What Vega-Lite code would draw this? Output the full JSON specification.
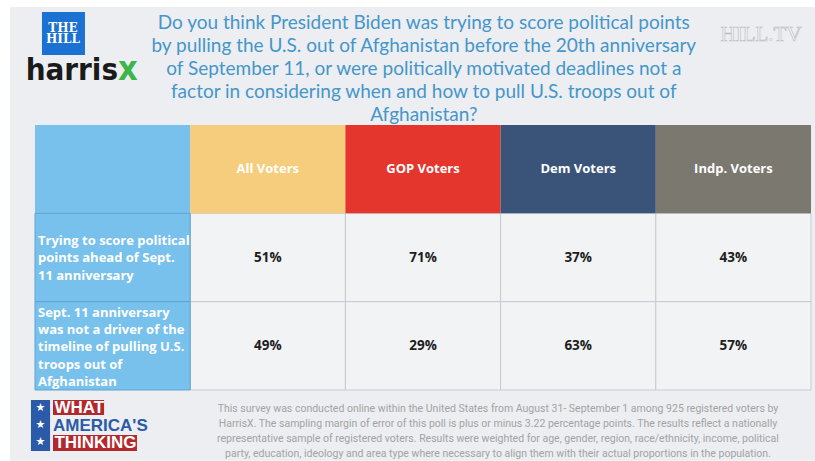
{
  "$schema": "https://vega.github.io/schema/vega-lite/v6.json",
  "width": 776,
  "height": 265,
  "autosize": {"type": "none"},
  "padding": {"left": 35, "top": 125, "right": 4, "bottom": 71},
  "background": "#ffffff",
  "config": {"view": {"stroke": null}},
  "data": {"values": [{}]},
  "datasets": {
    "cells": [
      {"row": "header", "col": "Response", "text": ""},
      {"row": "header", "col": "All Voters", "text": "All Voters"},
      {"row": "header", "col": "GOP Voters", "text": "GOP Voters"},
      {"row": "header", "col": "Dem Voters", "text": "Dem Voters"},
      {"row": "header", "col": "Indp. Voters", "text": "Indp. Voters"},
      {"row": "r1", "col": "Response", "text": "Trying to score political\npoints ahead of Sept.\n11 anniversary"},
      {"row": "r1", "col": "All Voters", "pct": 51},
      {"row": "r1", "col": "GOP Voters", "pct": 71},
      {"row": "r1", "col": "Dem Voters", "pct": 37},
      {"row": "r1", "col": "Indp. Voters", "pct": 43},
      {"row": "r2", "col": "Response", "text": "Sept. 11 anniversary\nwas not a driver of the\ntimeline of pulling U.S.\ntroops out of\nAfghanistan"},
      {"row": "r2", "col": "All Voters", "pct": 49},
      {"row": "r2", "col": "GOP Voters", "pct": 29},
      {"row": "r2", "col": "Dem Voters", "pct": 63},
      {"row": "r2", "col": "Indp. Voters", "pct": 57}
    ]
  },
  "resolve": {"scale": {"x": "independent", "y": "independent", "fill": "independent"}},
  "layer": [
    {
      "mark": {"type": "rect", "fill": "#eceef1"},
      "encoding": {
        "x": {"datum": -0.161, "type": "quantitative", "scale": {"domain": [0, 5], "nice": false, "zero": false}, "axis": null},
        "x2": {"datum": 5.03},
        "y": {"datum": -1.336, "type": "quantitative", "scale": {"domain": [0, 3], "reverse": true, "nice": false, "zero": false}, "axis": null},
        "y2": {"datum": 3.8}
      }
    },
    {
      "data": {"name": "cells"},
      "encoding": {
        "x": {"field": "col", "type": "nominal", "sort": ["Response", "All Voters", "GOP Voters", "Dem Voters", "Indp. Voters"], "axis": null, "scale": {"paddingInner": 0, "paddingOuter": 0}},
        "y": {"field": "row", "type": "nominal", "sort": ["header", "r1", "r2"], "axis": null, "scale": {"paddingInner": 0, "paddingOuter": 0}}
      },
      "layer": [
        {
          "transform": [{"filter": "datum.row != 'header' && datum.col != 'Response'"}],
          "mark": {"type": "rect", "fill": "#f1f3f5", "stroke": "#c6cad0", "strokeWidth": 1}
        },
        {
          "transform": [{"filter": "datum.row == 'header'"}],
          "mark": {"type": "rect"},
          "encoding": {
            "fill": {"field": "col", "type": "nominal", "legend": null,
              "scale": {"domain": ["Response", "All Voters", "GOP Voters", "Dem Voters", "Indp. Voters"],
                        "range": ["#78c1ec", "#f5cd7c", "#e5362d", "#3a5378", "#7b7870"]}}
          }
        },
        {
          "transform": [{"filter": "datum.col == 'Response' && datum.row != 'header'"}],
          "mark": {"type": "rect", "fill": "#78c1ec", "stroke": "#62a2d2", "strokeWidth": 1}
        },
        {
          "transform": [{"filter": "datum.row == 'header'"}],
          "mark": {"type": "text", "font": "Open Sans", "fontWeight": "bold", "fontSize": 13, "color": "#ffffff"},
          "encoding": {"text": {"field": "text"}}
        },
        {
          "transform": [{"filter": "datum.row != 'header' && datum.col != 'Response'"}, {"calculate": "datum.pct + '%'", "as": "label"}],
          "mark": {"type": "text", "font": "Open Sans", "fontWeight": "bold", "fontSize": 13.5, "color": "#1e1e1e"},
          "encoding": {"text": {"field": "label"}}
        },
        {
          "transform": [{"filter": "datum.col == 'Response' && datum.row == 'r1'"}],
          "mark": {"type": "text", "font": "Open Sans", "fontWeight": "bold", "fontSize": 13, "color": "#ffffff", "align": "left", "dx": 3, "dy": -17, "lineBreak": "\n", "lineHeight": 17.5},
          "encoding": {
            "x": {"field": "col", "type": "nominal", "bandPosition": 0, "sort": ["Response", "All Voters", "GOP Voters", "Dem Voters", "Indp. Voters"], "axis": null},
            "text": {"field": "text"}
          }
        },
        {
          "transform": [{"filter": "datum.col == 'Response' && datum.row == 'r2'"}],
          "mark": {"type": "text", "font": "Open Sans", "fontWeight": "bold", "fontSize": 13, "color": "#ffffff", "align": "left", "dx": 3, "dy": -33, "lineBreak": "\n", "lineHeight": 17.3},
          "encoding": {
            "x": {"field": "col", "type": "nominal", "bandPosition": 0, "sort": ["Response", "All Voters", "GOP Voters", "Dem Voters", "Indp. Voters"], "axis": null},
            "text": {"field": "text"}
          }
        }
      ]
    },
    {
      "layer": [
        {
          "mark": {"type": "text", "text": ["Do you think President Biden was trying to score political points", "by pulling the U.S. out of Afghanistan before the 20th anniversary", "of September 11, or were politically motivated deadlines not a", "factor in considering when and how to pull U.S. troops out of", "Afghanistan?"], "lineHeight": 23, "font": "Lato", "fontSize": 19, "color": "#4596cb", "align": "center", "baseline": "middle"},
          "encoding": {
            "x": {"datum": 2.505, "type": "quantitative", "scale": {"domain": [0, 5], "nice": false, "zero": false}, "axis": null},
            "y": {"datum": -1.155, "type": "quantitative", "scale": {"domain": [0, 3], "reverse": true, "nice": false, "zero": false}, "axis": null}
          }
        },
        {
          "mark": {"type": "rect", "fill": "#1b72d2"},
          "encoding": {
            "x": {"datum": 0.045, "type": "quantitative", "scale": {"domain": [0, 5], "nice": false, "zero": false}, "axis": null},
            "x2": {"datum": 0.322},
            "y": {"datum": -1.279, "type": "quantitative", "scale": {"domain": [0, 3], "reverse": true, "nice": false, "zero": false}, "axis": null},
            "y2": {"datum": -0.7925}
          }
        },
        {
          "mark": {"type": "text", "text": "THE\nHILL", "lineBreak": "\n", "lineHeight": 10.5, "font": "DejaVu Serif", "fontWeight": "bold", "fontSize": 12, "color": "#ffffff", "align": "center", "baseline": "middle"},
          "encoding": {
            "x": {"datum": 0.18, "type": "quantitative", "scale": {"domain": [0, 5], "nice": false, "zero": false}, "axis": null},
            "y": {"datum": -1.098, "type": "quantitative", "scale": {"domain": [0, 3], "reverse": true, "nice": false, "zero": false}, "axis": null}
          }
        },
        {
          "mark": {"type": "text", "text": "harris", "font": "'DejaVu Sans Condensed', 'DejaVu Sans', sans-serif", "fontWeight": "bold", "fontSize": 31, "color": "#1a1a1a", "align": "right", "baseline": "alphabetic"},
          "encoding": {
            "x": {"datum": 0.535, "type": "quantitative", "scale": {"domain": [0, 5], "nice": false, "zero": false}, "axis": null},
            "y": {"datum": -0.509, "type": "quantitative", "scale": {"domain": [0, 3], "reverse": true, "nice": false, "zero": false}, "axis": null}
          }
        },
        {
          "mark": {"type": "text", "text": "x", "font": "'DejaVu Sans Condensed', 'DejaVu Sans', sans-serif", "fontWeight": "bold", "fontSize": 34, "color": "#3db54a", "align": "left", "baseline": "alphabetic"},
          "encoding": {
            "x": {"datum": 0.535, "type": "quantitative", "scale": {"domain": [0, 5], "nice": false, "zero": false}, "axis": null},
            "y": {"datum": -0.509, "type": "quantitative", "scale": {"domain": [0, 3], "reverse": true, "nice": false, "zero": false}, "axis": null}
          }
        },
        {
          "mark": {"type": "text", "text": "HILL.TV", "font": "Liberation Serif", "fontSize": 21, "fill": "#fbfbfb", "stroke": "#bdbdbd", "strokeWidth": 0.7, "align": "center", "baseline": "middle"},
          "encoding": {
            "x": {"datum": 4.678, "type": "quantitative", "scale": {"domain": [0, 5], "nice": false, "zero": false}, "axis": null},
            "y": {"datum": -1.019, "type": "quantitative", "scale": {"domain": [0, 3], "reverse": true, "nice": false, "zero": false}, "axis": null}
          }
        },
        {
          "mark": {"type": "rect", "fill": "#2a5aa8"},
          "encoding": {
            "x": {"datum": -0.026, "type": "quantitative", "scale": {"domain": [0, 5], "nice": false, "zero": false}, "axis": null},
            "x2": {"datum": 0.097},
            "y": {"datum": 3.113, "type": "quantitative", "scale": {"domain": [0, 3], "reverse": true, "nice": false, "zero": false}, "axis": null},
            "y2": {"datum": 3.691}
          }
        },
        {
          "mark": {"type": "text", "text": "★\n★\n★", "lineBreak": "\n", "lineHeight": 17, "font": "DejaVu Sans", "fontSize": 11, "color": "#ffffff", "align": "center", "baseline": "middle"},
          "encoding": {
            "x": {"datum": 0.035, "type": "quantitative", "scale": {"domain": [0, 5], "nice": false, "zero": false}, "axis": null},
            "y": {"datum": 3.204, "type": "quantitative", "scale": {"domain": [0, 3], "reverse": true, "nice": false, "zero": false}, "axis": null}
          }
        },
        {
          "mark": {"type": "rect", "fill": "#b3282d"},
          "encoding": {
            "x": {"datum": 0.116, "type": "quantitative", "scale": {"domain": [0, 5], "nice": false, "zero": false}, "axis": null},
            "x2": {"datum": 0.445},
            "y": {"datum": 3.113, "type": "quantitative", "scale": {"domain": [0, 3], "reverse": true, "nice": false, "zero": false}, "axis": null},
            "y2": {"datum": 3.283}
          }
        },
        {
          "mark": {"type": "rect", "fill": "#b3282d"},
          "encoding": {
            "x": {"datum": 0.116, "type": "quantitative", "scale": {"domain": [0, 5], "nice": false, "zero": false}, "axis": null},
            "x2": {"datum": 0.657},
            "y": {"datum": 3.51, "type": "quantitative", "scale": {"domain": [0, 3], "reverse": true, "nice": false, "zero": false}, "axis": null},
            "y2": {"datum": 3.691}
          }
        },
        {
          "mark": {"type": "text", "text": "WHAT", "font": "Liberation Sans", "fontWeight": "bold", "fontSize": 17, "color": "#ffffff", "align": "left", "baseline": "middle"},
          "encoding": {
            "x": {"datum": 0.125, "type": "quantitative", "scale": {"domain": [0, 5], "nice": false, "zero": false}, "axis": null},
            "y": {"datum": 3.2, "type": "quantitative", "scale": {"domain": [0, 3], "reverse": true, "nice": false, "zero": false}, "axis": null}
          }
        },
        {
          "mark": {"type": "text", "text": "AMERICA'S", "font": "Liberation Sans", "fontWeight": "bold", "fontSize": 17, "color": "#2a5aa8", "align": "left", "baseline": "middle"},
          "encoding": {
            "x": {"datum": 0.116, "type": "quantitative", "scale": {"domain": [0, 5], "nice": false, "zero": false}, "axis": null},
            "y": {"datum": 3.41, "type": "quantitative", "scale": {"domain": [0, 3], "reverse": true, "nice": false, "zero": false}, "axis": null}
          }
        },
        {
          "mark": {"type": "text", "text": "THINKING", "font": "Liberation Sans", "fontWeight": "bold", "fontSize": 17, "color": "#ffffff", "align": "left", "baseline": "middle"},
          "encoding": {
            "x": {"datum": 0.125, "type": "quantitative", "scale": {"domain": [0, 5], "nice": false, "zero": false}, "axis": null},
            "y": {"datum": 3.602, "type": "quantitative", "scale": {"domain": [0, 3], "reverse": true, "nice": false, "zero": false}, "axis": null}
          }
        },
        {
          "mark": {"type": "text", "text": "This survey was conducted online within the United States from August 31- September 1 among 925 registered voters by\nHarrisX. The sampling margin of error of this poll is plus or minus 3.22 percentage points. The results reflect a nationally\nrepresentative sample of registered voters. Results were weighted for age, gender, region, race/ethnicity, income, political\nparty, education, ideology and area type where necessary to align them with their actual proportions in the population.", "lineBreak": "\n", "lineHeight": 15, "font": "Roboto", "fontSize": 10.5, "color": "#a3a3a3", "align": "center", "baseline": "middle"},
          "encoding": {
            "x": {"datum": 2.983, "type": "quantitative", "scale": {"domain": [0, 5], "nice": false, "zero": false}, "axis": null},
            "y": {"datum": 3.215, "type": "quantitative", "scale": {"domain": [0, 3], "reverse": true, "nice": false, "zero": false}, "axis": null}
          }
        }
      ]
    }
  ]
}
